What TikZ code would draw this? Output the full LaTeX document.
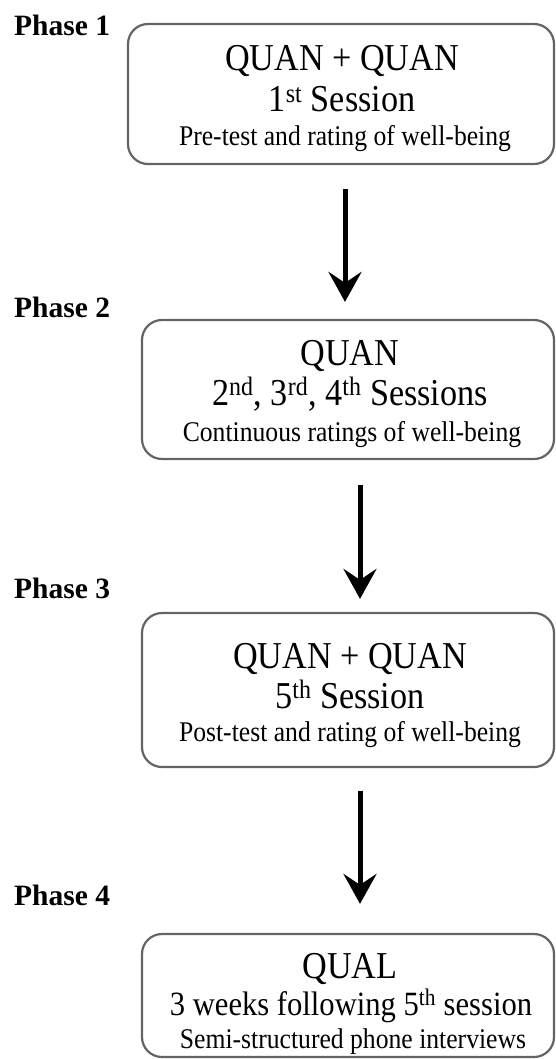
\documentclass[tikz,border=0pt]{standalone}
\usepackage{fontspec}
\setmainfont{Liberation Serif}
\newfontfamily\boxfont[FakeStretch=0.9]{Liberation Serif}
\usetikzlibrary{arrows.meta}
\definecolor{boxgray}{RGB}{100,100,100}
\begin{document}
\begin{tikzpicture}[x=1pt,y=-1pt,
  box/.style={draw=boxgray, line width=2.2pt, rounded corners=20pt, inner sep=0pt, rectangle},
  big/.style={font=\boxfont\fontsize{38}{40}\selectfont, anchor=base, inner sep=0pt},
  mid/.style={font=\boxfont\fontsize{34}{36}\selectfont, anchor=base, inner sep=0pt},
  small/.style={font=\boxfont\fontsize{28.5}{30}\selectfont, anchor=base, inner sep=0pt},
  phase/.style={font=\bfseries\fontsize{29.5}{31}\selectfont, anchor=base west, inner sep=0pt},
  arr/.style={line width=5pt, -{Stealth[length=30pt,width=33pt,inset=11pt]}}]
\useasboundingbox (0,0) rectangle (556,1059);
% boxes
\node[box, minimum width=426pt, minimum height=140pt] (b1) at (341,94) {};
\node[box, minimum width=412pt, minimum height=139pt] (b2) at (348,389.5) {};
\node[box, minimum width=412pt, minimum height=154pt] (b3) at (348,690) {};
\node[box, minimum width=412pt, minimum height=123pt] (b4) at (348,995.5) {};
% phase labels
\node[phase] (p1) at (14,36) {Phase 1};
\node[phase] (p2) at (14,317) {Phase 2};
\node[phase] (p3) at (14,598) {Phase 3};
\node[phase] (p4) at (14,905) {Phase 4};
% box texts
\node[big] (b1t1) at (342,71) {QUAN + QUAN};
\node[big] (b1t2) at (342,112) {1\textsuperscript{st} Session};
\node[small] (b1t3) at (345,146) {Pre-test and rating of well-being};
\node[big] (b2t1) at (350,365) {QUAN};
\node[big] (b2t2) at (350,405) {2\textsuperscript{nd}, 3\textsuperscript{rd}, 4\textsuperscript{th} Sessions};
\node[small] (b2t3) at (352,441) {Continuous ratings of well-being};
\node[big] (b3t1) at (350,668) {QUAN + QUAN};
\node[big] (b3t2) at (350,708) {5\textsuperscript{th} Session};
\node[small] (b3t3) at (350,741) {Post-test and rating of well-being};
\node[big] (b4t1) at (350,978) {QUAL};
\node[mid] (b4t2) at (351,1015) {3 weeks following 5\textsuperscript{th} session};
\node[small] (b4t3) at (353,1048) {Semi-structured phone interviews};
% arrows
\coordinate (ax1) at (345,0);
\coordinate (ax2) at (360,0);
\draw[arr, shorten <=24pt, shorten >=17pt] (b1.south -| ax1) -- (b2.north -| ax1);
\draw[arr, shorten <=25pt, shorten >=13pt] (b2.south -| ax2) -- (b3.north -| ax2);
\draw[arr, shorten <=23pt, shorten >=29pt] (b3.south -| ax2) -- (b4.north -| ax2);
\end{tikzpicture}
\end{document}
